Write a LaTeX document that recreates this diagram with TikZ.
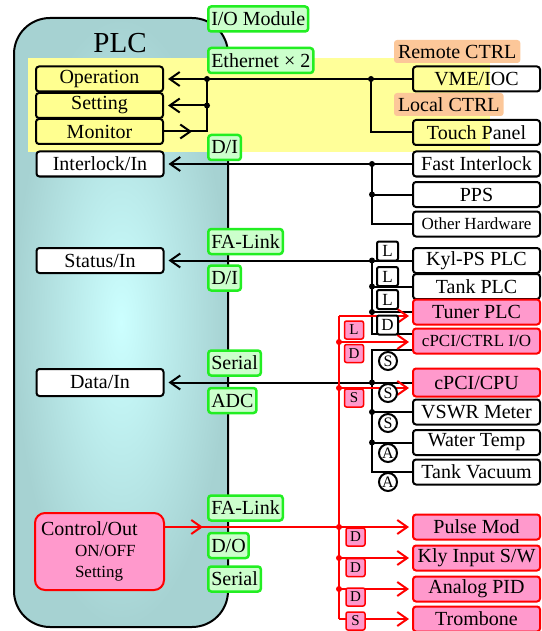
\documentclass[tikz,border=0pt]{standalone}
\usepackage{fontspec}
\setmainfont{Liberation Serif}
\usetikzlibrary{arrows.meta}
\usetikzlibrary{decorations.markings}
\definecolor{plcdark}{HTML}{A6D2D2}
\definecolor{plclight}{HTML}{CCFFFF}
\definecolor{bandyellow}{HTML}{FFFF99}
\definecolor{boxyellow}{HTML}{FFFF90}
\definecolor{labgreen}{HTML}{CCFFCC}
\definecolor{labborder}{HTML}{22EE22}
\definecolor{pinkfill}{HTML}{FF99CC}
\definecolor{peach}{HTML}{FCC799}
\newcommand{\bigf}{\fontsize{20}{22}\selectfont}
\newcommand{\midf}{\fontsize{17}{21}\selectfont}
\tikzset{midarr/.style={postaction={decorate},decoration={markings,mark=at position #1 with {\arrow{>}}}}}

\begin{document}
\begin{tikzpicture}[x=1pt,y=-1pt,line width=2pt,>={Straight Barb[length=10pt,width=14pt]}]
\tikzstyle{plcbody}=[rectangle,draw,rounded corners=36pt,shading=radial,inner color=plclight,outer color=plcdark,minimum width=214pt,minimum height=609pt]
\tikzstyle{box}=[rectangle,draw,fill=white,rounded corners=3pt,minimum width=127pt,minimum height=25pt,inner sep=0pt,font=\bigf]
\tikzstyle{ybox}=[box,fill=boxyellow]
\tikzstyle{pbox}=[box,draw=red,fill=pinkfill]
\tikzstyle{lab}=[rectangle,draw=labborder,fill=labgreen,line width=2.5pt,rounded corners=3pt,anchor=west,inner xsep=3pt,inner ysep=0pt,minimum height=25pt,font=\bigf]
\tikzstyle{orlab}=[rectangle,fill=peach,rounded corners=3pt,anchor=west,inner xsep=4pt,inner ysep=0pt,minimum height=23pt,font=\bigf]
\tikzstyle{ktag}=[rectangle,draw,fill=white,rounded corners=2pt,minimum width=21pt,minimum height=19pt,inner sep=0pt,font=\midf]
\tikzstyle{ctag}=[circle,draw,fill=white,minimum size=18pt,inner sep=0pt,font=\fontsize{16}{16}\selectfont]
\tikzstyle{rtag}=[rectangle,draw=red,fill=pinkfill,line width=1.5pt,rounded corners=2pt,minimum width=19pt,minimum height=18pt,inner sep=0pt,font=\fontsize{15}{16}\selectfont]
\tikzstyle{jdot}=[circle,fill,inner sep=0pt,minimum size=6pt]
\tikzstyle{arr}=[->,shorten >=4pt]
\tikzstyle{rarr}=[->,red,shorten >=3pt]
\useasboundingbox (0,0) rectangle (541,631);

% PLC body
\node[plcbody] (plc) at (121,322.5) {};
\node[font=\fontsize{29}{30}\selectfont] (plctitle) at (120,43) {PLC};
\fill[bandyellow] (28,58) rectangle (490,152);

% operation panel
\node[ybox] (op) at (99.5,79) {Operation};
\node[ybox] (sett) at (99.5,105.5) {Setting};
\node[ybox] (mon) at (99.5,131.5) {Monitor};
\node[box,fill=none] (vme) at (476.5,79) {VME/IOC};
\node[box,fill=none] (touch) at (476.5,132.5) {Touch Panel};
\node[orlab] (remote) at (393,51.5) {Remote CTRL};
\node[orlab] (loc) at (393,104.5) {Local CTRL};
\node[lab] (iomod) at (207,19) {I/O Module};
\node[lab] (ether) at (207,60.5) {Ethernet × 2};
\node[lab] (di1) at (207,147.5) {D/I};

% inputs
\node[box] (intl) at (100,164) {Interlock/In};
\node[box] (fastil) at (476.5,164) {Fast Interlock};
\node[box] (pps) at (476.5,194.5) {PPS};
\node[box,font=\midf] (othhw) at (476.5,224) {Other Hardware};
\node[box] (status) at (100,260.5) {Status/In};
\node[lab] (falink1) at (207,241.5) {FA-Link};
\node[lab] (di2) at (207,278) {D/I};
\node[box] (kyl) at (476.5,260.5) {Kyl-PS PLC};
\node[box] (tankplc) at (476.5,286.5) {Tank PLC};
\node[pbox] (tuner) at (476.5,312) {Tuner PLC};
\node[pbox,font=\midf] (cctrl) at (476.5,341) {cPCI/CTRL I/O};
\node[pbox,minimum height=28pt] (ccpu) at (476.5,382.5) {cPCI/CPU};
\node[box] (vswr) at (476.5,412) {VSWR Meter};
\node[box] (wtemp) at (476.5,442.5) {Water Temp};
\node[box] (tvac) at (476.5,472) {Tank Vacuum};
\node[box,minimum height=27pt] (datain) at (100,382.5) {Data/In};
\node[lab] (serial1) at (207,363) {Serial};
\node[lab] (adc) at (207,400.5) {ADC};

% control
\node[rectangle,draw=red,fill=pinkfill,rounded corners=10pt,minimum height=77pt,text width=117pt,inner xsep=6pt,align=left,font=\bigf] (ctrl) at (99.5,551.5)
  {Control/Out\\[-1pt]\hspace*{34pt}{\midf ON/OFF}\\[-1pt]\hspace*{34pt}{\midf Setting}};
\node[lab] (falink2) at (207,508) {FA-Link};
\node[lab] (dout) at (207,545.5) {D/O};
\node[lab] (serial2) at (207,579) {Serial};
\node[pbox] (pulse) at (476.5,527) {Pulse Mod};
\node[pbox] (kly) at (476.5,558) {Kly Input S/W};
\node[pbox] (apid) at (476.5,589) {Analog PID};
\node[pbox] (tromb) at (476.5,619) {Trombone};

% bus corners
\coordinate (ob) at (207,79);
\coordinate (vb) at (371,79);
\coordinate (ib) at (372,164);
\coordinate (sb) at (372,260.5);
\coordinate (sbe) at (372,334);
\coordinate (db) at (372,350);
\coordinate (rb) at (339,316);
\coordinate (rbe) at (339,619);
\coordinate (rc1) at (339,342);
\coordinate (rc2) at (339,388);

% black lines
\draw[arr] (vme) -- (op);
\draw[arr] (ob) |- (sett);
\draw[midarr=28pt] (mon) -| (ob);
\draw (touch) -| (vb);
\draw[arr] (fastil) -- (intl);
\draw (othhw) -| (ib);
\draw (pps) -- (pps -| ib);
\draw[arr] (kyl) -- (status);
\draw (tankplc) -- (tankplc -| sb);
\draw (tuner) -- (tuner -| sb);
\draw (sb) -- (sbe) -- (sbe -| cctrl.west);
\draw[arr] (ccpu) -- (datain);
\draw (cctrl.west |- db) -- (db) |- (tvac);
\draw (vswr) -- (vswr -| db);
\draw (wtemp) -- (wtemp -| db);

% red lines
\draw[red] (rb) -- (rbe);
\draw[rarr] (rb) -- (rb -| tuner.west);
\draw[rarr] (rc1) -- (rc1 -| cctrl.west);
\draw[rarr] (rc2) -- (rc2 -| ccpu.west);
\draw[rarr,midarr=38pt] (pulse.west -| ctrl.east) -- (pulse);
\draw[rarr] (kly -| rb) -- (kly);
\draw[rarr] (apid -| rb) -- (apid);
\draw[rarr] (rbe) -- (tromb);

% junctions
\foreach \p in {ob,vb,ib,sb} \node[jdot] at (\p) {};
\node[jdot] at (207,105.5) {};
\node[jdot] at (372,194.5) {};
\node[jdot] at (372,286.5) {};
\node[jdot] at (372,312) {};
\node[jdot] at (372,382.5) {};
\node[jdot] at (372,412) {};
\node[jdot] at (372,442.5) {};
\foreach \y in {342,388,527,558,589} \node[jdot,red] at (339,\y) {};

% tags
\node[ktag] (tl1) at (387.5,251) {L};
\node[ktag] (tl2) at (387.5,276.5) {L};
\node[ktag] (tl3) at (387.5,299.5) {L};
\node[ktag] (td1) at (387.5,325) {D};
\node[ctag] (cs1) at (388,361) {S};
\node[ctag] (cs2) at (388,393) {S};
\node[ctag] (cs3) at (388,423) {S};
\node[ctag] (ca1) at (388,453) {A};
\node[ctag] (ca2) at (388,482) {A};
\node[rtag] (rl1) at (354,330) {L};
\node[rtag] (rd1) at (354,353.5) {D};
\node[rtag] (rs1) at (354,398) {S};
\node[rtag] (rd2) at (355.5,537) {D};
\node[rtag] (rd3) at (355.5,567.5) {D};
\node[rtag] (rd4) at (355.5,597) {D};
\node[rtag] (rs2) at (355.5,621) {S};
\end{tikzpicture}
\end{document}
